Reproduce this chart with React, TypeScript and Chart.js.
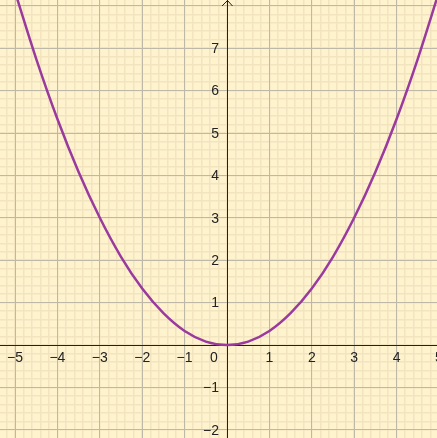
import React, { useEffect, useRef } from "react";
import { Chart, registerables } from "chart.js";

Chart.register(...registerables);

// Sample points of the parabola f(x) = x² / 3
const xValues = [-5, -4.5, -4, -3.5, -3, -2.5, -2, -1.5, -1, -0.5, 0, 0.5, 1, 1.5, 2, 2.5, 3, 3.5, 4, 4.5, 5];
const yValues = [8.33, 6.75, 5.33, 4.08, 3.0, 2.08, 1.33, 0.75, 0.33, 0.08, 0, 0.08, 0.33, 0.75, 1.33, 2.08, 3.0, 4.08, 5.33, 6.75, 8.33];

// Visible window of the coordinate plane
const xRange = [-5.354, 4.953];
const yRange = [-2.193, 8.137];
const majorStep = 1;
const minorStep = 0.2;

// Labelled tick values along each axis
const xTickLabels = [-5, -4, -3, -2, -1, 1, 2, 3, 4, 5];
const yTickLabels = [-2, -1, 1, 2, 3, 4, 5, 6, 7];
const originLabel = "0";

const BG = "rgb(255, 243, 206)";
const MINOR = "rgb(242, 228, 191)";
const MAJOR = "rgb(190, 184, 168)";
const AXIS = "#222";
const CURVE = "#9a3a9e";
const FONT_FAMILY = "'Liberation Sans', Arial, sans-serif";
const FONT_SIZE = 14;

const fmt = (v: number) => (v < 0 ? "\u2212" + Math.abs(v) : String(v));

// Draws the y-axis arrow head and the tick labels next to the crossing axes
const axisLabels = {
  id: "axisLabels",
  afterDraw(chart: any) {
    const { ctx, scales } = chart;
    const xs = scales.x;
    const ys = scales.y;
    const x0 = xs.getPixelForValue(0);
    const y0 = ys.getPixelForValue(0);
    const top = chart.chartArea.top;
    ctx.save();
    ctx.strokeStyle = AXIS;
    ctx.lineWidth = 1;
    ctx.beginPath();
    ctx.moveTo(x0 - 5, top + 6);
    ctx.lineTo(x0 + 0.5, top + 0.5);
    ctx.lineTo(x0 + 5.5, top + 6);
    ctx.stroke();

    ctx.fillStyle = AXIS;
    ctx.font = `${FONT_SIZE}px ${FONT_FAMILY}`;
    ctx.textBaseline = "middle";

    ctx.textAlign = "center";
    xTickLabels.forEach((v) => {
      ctx.fillText(fmt(v), xs.getPixelForValue(v), y0 + 13.5);
    });

    ctx.textAlign = "right";
    yTickLabels.forEach((v) => {
      ctx.fillText(fmt(v), x0 - 8, ys.getPixelForValue(v) + 1);
    });

    ctx.textAlign = "center";
    ctx.fillText(originLabel, x0 - 13, y0 + 13.5);
    ctx.restore();
  },
};

export default function App() {
  const ref = useRef<HTMLCanvasElement>(null);

  useEffect(() => {
    if (!ref.current) return;
    const points = xValues.map((x, i) => ({ x, y: yValues[i] }));
    const gridScale = (axis: "x" | "y", range: number[], step: number, color: string, z: number, border: boolean) => ({
      type: "linear",
      axis,
      position: axis === "x" ? { y: 0 } : { x: 0 },
      min: range[0],
      max: range[1],
      z,
      border: { display: border, color: AXIS, width: 1 },
      grid: { color, lineWidth: step === minorStep ? 1.5 : 1, drawTicks: false },
      ticks: { display: false, stepSize: step, includeBounds: false, autoSkip: false },
    });
    const chart = new Chart(ref.current, {
      type: "scatter",
      data: {
        datasets: [
          {
            data: points,
            showLine: true,
            borderColor: CURVE,
            borderWidth: 2.5,
            pointRadius: 0,
            cubicInterpolationMode: "monotone",
            fill: false,
          },
        ],
      },
      options: {
        responsive: false,
        animation: false,
        events: [],
        layout: { padding: 0 },
        plugins: { legend: { display: false }, tooltip: { enabled: false } },
        scales: {
          xMinor: gridScale("x", xRange, minorStep, MINOR, -2, false),
          yMinor: gridScale("y", yRange, minorStep, MINOR, -2, false),
          x: gridScale("x", xRange, majorStep, MAJOR, -1, true),
          y: gridScale("y", yRange, majorStep, MAJOR, -1, true),
        },
      },
      plugins: [axisLabels],
    } as any);
    return () => chart.destroy();
  }, []);

  return (
    <div style={{ position: "fixed", left: 0, top: 0, width: 437, height: 438, background: BG }}>
      <canvas ref={ref} width={437} height={438} style={{ display: "block" }} />
    </div>
  );
}
